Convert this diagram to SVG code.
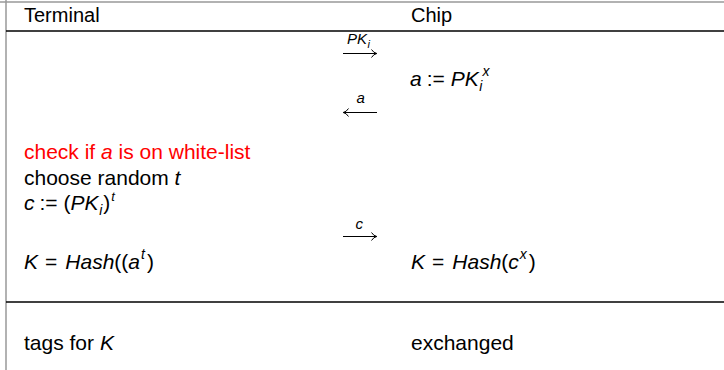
<svg xmlns="http://www.w3.org/2000/svg" width="724" height="370" viewBox="0 0 724 370">
<style>
text{font-family:"Liberation Sans",Arial,sans-serif;font-size:21px;fill:#000}
.h{font-size:20px}
.i{font-style:italic}
.s{font-size:14px}
.l{font-size:15px}
.red{fill:#ff0000}
.border{stroke:#999;stroke-width:1.5;fill:none}
.rule{stroke:#000;stroke-width:1.4;fill:none}
.arr{stroke:#000;stroke-width:1;fill:none}
</style>
<g id="table">
<line class="border" x1="0" y1="2" x2="724" y2="2"/>
<line class="border" x1="6" y1="0" x2="6" y2="370"/>
<line class="rule" x1="6" y1="31" x2="724" y2="31"/>
<line class="rule" x1="6" y1="302" x2="724" y2="302"/>
</g>
<g id="header">
<text class="h" x="24" y="22">Terminal</text>
<text class="h" x="411" y="22">Chip</text>
</g>
<g id="connectors">
<g id="msg1">
<text class="i l" x="347" y="44">PK<tspan font-size="11" dx="0.5" dy="4">i</tspan></text>
<path class="arr" d="M343,53.5 H376.5 M371.5,49.5 Q373.5,52.8 376.8,53.5 Q373.5,54.2 371.5,57.5"/>
</g>
<g id="msg2">
<text class="i l" x="356.5" y="103">a</text>
<path class="arr" d="M377,112.5 H343.5 M348.5,108.5 Q346.5,111.8 343.2,112.5 Q346.5,113.2 348.5,116.5"/>
</g>
<g id="msg3">
<text class="i l" x="355.5" y="229">c</text>
<path class="arr" d="M343,236.5 H376.5 M371.5,232.5 Q373.5,235.8 376.8,236.5 Q373.5,237.2 371.5,240.5"/>
</g>
</g>
<g id="chip-compute">
<text x="410" y="86"><tspan class="i">a</tspan><tspan dx="5">:=</tspan><tspan class="i" dx="6">PK</tspan><tspan class="i s" dx="0.5" dy="5">i</tspan><tspan class="i s" dx="0" dy="-15">x</tspan></text>
</g>
<g id="terminal-steps">
<text class="red" x="24" y="159">check if <tspan class="i">a</tspan> is on white-list</text>
<text x="24" y="185">choose random <tspan class="i">t</tspan></text>
<text x="24" y="210"><tspan class="i">c</tspan><tspan dx="5">:=</tspan><tspan dx="6">(</tspan><tspan class="i">PK</tspan><tspan class="i s" dx="0.5" dy="5">i</tspan><tspan dx="1" dy="-5">)</tspan><tspan class="i" font-size="13" dx="1" dy="-9">t</tspan></text>
</g>
<g id="terminal-key">
<text x="24" y="269"><tspan class="i">K</tspan><tspan dx="7">=</tspan><tspan class="i" dx="8">Hash</tspan>((<tspan class="i">a</tspan><tspan class="i s" dx="1" dy="-10">t</tspan><tspan dx="2" dy="10">)</tspan></text>
</g>
<g id="chip-key">
<text x="411" y="269"><tspan class="i">K</tspan><tspan dx="7">=</tspan><tspan class="i" dx="8">Hash</tspan>(<tspan class="i">c</tspan><tspan class="i s" dx="1" dy="-10">x</tspan><tspan dx="2" dy="10">)</tspan></text>
</g>
<g id="footer">
<text x="24" y="350">tags for <tspan class="i">K</tspan></text>
<text x="411" y="350">exchanged</text>
</g>
</svg>
